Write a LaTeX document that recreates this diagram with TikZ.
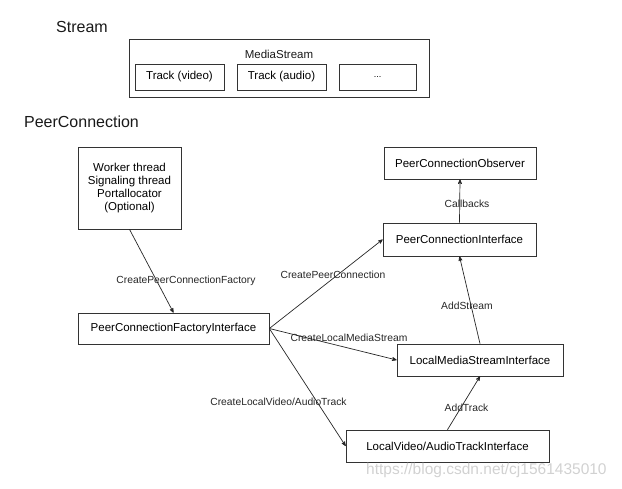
\documentclass[tikz,border=0pt]{standalone}
\usepackage{fontspec}
\setmainfont{Liberation Sans}
\usetikzlibrary{arrows, positioning, calc}

\begin{document}
\begin{tikzpicture}[
  x=1pt, y=-1pt,
  box/.style={rectangle, draw=black!80, line width=0.7pt, align=center, inner sep=0pt, font=\fontsize{11.5}{13.3}\selectfont},
  title/.style={font=\fontsize{16}{18}\selectfont, text=black!90},
  txt/.style={font=\fontsize{11.5}{13.3}\selectfont, text=black!90},
  edgelbl/.style={font=\fontsize{10.3}{12}\selectfont, text=black!85},
  arrow/.style={->, >=stealth', draw=black!85, line width=0.7pt},
]
\useasboundingbox (0,0) rectangle (622,488);

% Stream
\node[title] (streamtitle) at (82,27) {Stream};
\node[box, minimum width=300, minimum height=58] (media) at (279,68) {};
\node[txt] (mediatitle) at (279,54) {MediaStream};
\node[box, minimum width=89, minimum height=26] (trackv) at (179.5,77) {Track (video)};
\node[box, minimum width=89, minimum height=26] (tracka) at (281.5,77) {Track (audio)};
\node[box, minimum width=77, minimum height=26, font=\fontsize{9}{10}\selectfont] (trackx) at (377.5,77) {...};

% PeerConnection
\node[title] (pctitle) at (81.5,122) {PeerConnection};
\node[box, minimum width=103, minimum height=82] (worker) at (129.5,188) {Worker thread\\Signaling thread\\Portallocator\\(Optional)};
\node[box, minimum width=191, minimum height=31] (factory) at (173.5,328.5) {PeerConnectionFactoryInterface};
\node[box, minimum width=152, minimum height=32] (observer) at (460,163) {PeerConnectionObserver};
\node[box, minimum width=153, minimum height=33] (pci) at (459.5,239.5) {PeerConnectionInterface};
\node[box, minimum width=166, minimum height=32] (lmsi) at (480,360) {LocalMediaStreamInterface};
\node[box, minimum width=203, minimum height=32] (lvati) at (447.5,446) {LocalVideo/AudioTrackInterface};

% Connections
\draw[arrow] (worker.south) -- (factory.north);
\draw[arrow] (factory.east) -- (pci.west);
\draw[arrow] (factory.east) -- (lmsi.west);
\draw[arrow] (factory.east) -- (lvati.west);
\draw[arrow] (pci.north) -- (observer.south);
\draw[arrow] (lmsi.north) -- (pci.south);
\draw[arrow] (lvati.north) -- (lmsi.south);

% Labels
\node[edgelbl] (lblfactory) at (186,281) {CreatePeerConnectionFactory};
\node[edgelbl] (lblpc) at (333,275) {CreatePeerConnection};
\node[edgelbl] (lblms) at (349,338) {CreateLocalMediaStream};
\node[edgelbl] (lbltrack) at (278.5,402) {CreateLocalVideo/AudioTrack};
\node[edgelbl] (lblcb) at (467,204) {Callbacks};
\node[edgelbl] (lbladdstream) at (467,306) {AddStream};
\node[edgelbl] (lbladdtrack) at (466.5,408) {AddTrack};

% Watermark
\node[anchor=west, inner sep=0pt, text=black!18, font=\fontsize{15.5}{17}\selectfont] (mark) at (366,470) {https://blog.csdn.net/cj1561435010};

\end{tikzpicture}
\end{document}
